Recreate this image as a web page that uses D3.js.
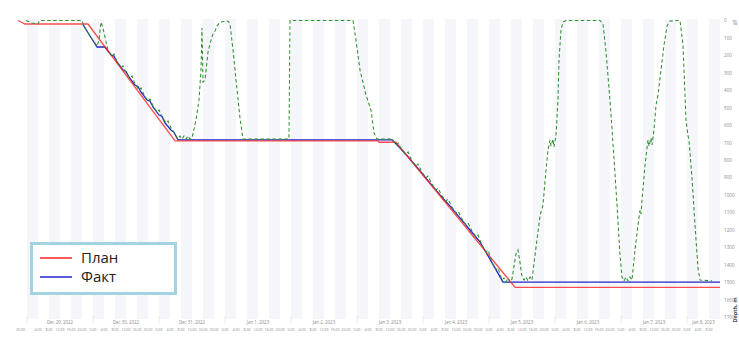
<!DOCTYPE html>
<html><head><meta charset="utf-8">
<script src="https://cdn.jsdelivr.net/npm/d3@7"></script>
<style>body{margin:0;background:#fff}svg{display:block}</style>
</head><body>
<svg id="c" width="739" height="338"></svg>
<script>
// ---------- data ----------
const timeDomain = ["2022-12-28 20:00", "2023-01-08 12:00"];
const depthTicks = [0,100,200,300,400,500,600,700,800,900,1000,1100,1200,1300,1400,1500,1600,1700];
const legendLabels = ["План", "Факт"];
const axisTitle = "Depth, m";

const planSeries = [
  ["2022-12-28 20:45",0],["2022-12-28 23:15",20],["2022-12-29 22:10",20],
  ["2022-12-31 05:50",690],["2023-01-03 07:40",690],["2023-01-03 08:00",698],
  ["2023-01-03 14:10",698],["2023-01-05 09:30",1530],["2023-01-08 12:00",1530]
];
const factSeries = [
  ["2022-12-29 20:20",23],["2022-12-29 22:55",89],["2022-12-30 01:30",152],["2022-12-30 04:20",152],
  ["2022-12-30 06:35",198],["2022-12-30 07:40",205],["2022-12-30 08:45",238],["2022-12-30 10:55",284],
  ["2022-12-30 12:00",292],["2022-12-30 13:05",324],["2022-12-30 15:15",370],["2022-12-30 16:20",378],
  ["2022-12-30 17:25",410],["2022-12-30 19:40",456],["2022-12-30 20:45",463],["2022-12-30 21:50",496],
  ["2022-12-31 00:00",542],["2022-12-31 01:05",549],["2022-12-31 02:10",587],["2022-12-31 04:20",628],
  ["2022-12-31 05:25",640],["2022-12-31 06:55",685],["2023-01-03 12:45",685],["2023-01-03 15:40",731],
  ["2023-01-03 19:15",794],["2023-01-03 22:55",863],["2023-01-04 02:35",932],["2023-01-04 06:10",1000],
  ["2023-01-04 09:50",1064],["2023-01-04 13:25",1132],["2023-01-04 17:05",1201],["2023-01-04 20:45",1270],
  ["2023-01-04 23:40",1350],["2023-01-05 02:35",1430],["2023-01-05 05:05",1500],["2023-01-08 12:00",1500]
];
const bitSeries = [
  ["2022-12-28 23:38",0],["2022-12-29 01:49",14],["2022-12-29 04:00",20],["2022-12-29 04:33",0],
  ["2022-12-29 20:00",0],["2022-12-29 20:44",32],["2022-12-29 22:55",89],["2022-12-30 01:27",146],
  ["2022-12-30 02:11",112],["2022-12-30 02:55",9],["2022-12-30 03:38",43],["2022-12-30 04:44",123],
  ["2022-12-30 05:27",169],["2022-12-30 06:55",204],["2022-12-30 07:38",192],["2022-12-30 08:44",238],
  ["2022-12-30 10:11",272],["2022-12-30 10:55",261],["2022-12-30 12:00",301],["2022-12-30 13:27",330],
  ["2022-12-30 14:11",318],["2022-12-30 15:16",364],["2022-12-30 16:44",398],["2022-12-30 17:27",387],
  ["2022-12-30 18:33",427],["2022-12-30 20:00",462],["2022-12-30 20:44",450],["2022-12-30 21:49",490],
  ["2022-12-30 23:16",525],["2022-12-31 00:00",513],["2022-12-31 01:05",553],["2022-12-31 02:33",588],
  ["2022-12-31 03:16",576],["2022-12-31 04:22",616],["2022-12-31 05:49",651],["2022-12-31 06:55",680],
  ["2022-12-31 07:38",662],["2022-12-31 08:22",680],["2022-12-31 09:05",662],["2022-12-31 09:49",680],
  ["2022-12-31 10:33",662],["2022-12-31 11:16",680],["2022-12-31 12:00",674],["2022-12-31 13:27",571],
  ["2022-12-31 14:33",456],["2022-12-31 15:16",284],["2022-12-31 15:38",43],["2022-12-31 16:00",353],
  ["2022-12-31 16:44",341],["2022-12-31 17:49",181],["2022-12-31 18:55",112],["2022-12-31 19:38",77],
  ["2022-12-31 20:22",60],["2022-12-31 21:05",32],["2022-12-31 22:11",9],["2023-01-01 01:05",3],
  ["2023-01-01 01:49",20],["2023-01-01 02:55",169],["2023-01-01 04:00",341],["2023-01-01 05:27",559],
  ["2023-01-01 06:33",680],["2023-01-01 23:16",680],["2023-01-01 23:38",0],["2023-01-02 22:33",0],
  ["2023-01-02 23:38",112],["2023-01-03 01:05",284],["2023-01-03 03:16",427],["2023-01-03 05:05",513],
  ["2023-01-03 06:11",645],["2023-01-03 07:16",680],["2023-01-03 12:45",680],["2023-01-03 14:11",714],
  ["2023-01-03 14:55",703],["2023-01-03 16:22",743],["2023-01-03 17:49",766],["2023-01-03 18:33",754],
  ["2023-01-03 20:00",806],["2023-01-03 21:27",834],["2023-01-03 22:11",823],["2023-01-03 23:38",869],
  ["2023-01-04 01:05",903],["2023-01-04 01:49",892],["2023-01-04 03:16",938],["2023-01-04 04:44",972],
  ["2023-01-04 05:27",961],["2023-01-04 06:55",1006],["2023-01-04 08:22",1035],["2023-01-04 09:05",1024],
  ["2023-01-04 10:33",1070],["2023-01-04 12:00",1104],["2023-01-04 12:44",1093],["2023-01-04 14:11",1138],
  ["2023-01-04 15:38",1173],["2023-01-04 16:22",1161],["2023-01-04 17:49",1207],["2023-01-04 19:16",1241],
  ["2023-01-04 20:00",1230],["2023-01-04 21:27",1287],["2023-01-04 22:55",1327],["2023-01-04 23:38",1316],
  ["2023-01-05 01:05",1385],["2023-01-05 02:33",1430],["2023-01-05 03:16",1419],["2023-01-05 04:44",1488],
  ["2023-01-05 05:27",1476],["2023-01-05 06:11",1499],["2023-01-05 06:55",1476],["2023-01-05 07:38",1499],
  ["2023-01-05 08:22",1482],["2023-01-05 09:05",1408],["2023-01-05 09:49",1339],["2023-01-05 10:33",1316],
  ["2023-01-05 11:16",1385],["2023-01-05 12:00",1471],["2023-01-05 12:44",1488],["2023-01-05 13:27",1471],
  ["2023-01-05 14:11",1493],["2023-01-05 14:55",1471],["2023-01-05 15:38",1488],["2023-01-05 16:44",1345],
  ["2023-01-05 17:49",1213],["2023-01-05 18:33",1121],["2023-01-05 18:55",1098],["2023-01-05 19:38",1058],
  ["2023-01-05 20:44",857],["2023-01-05 21:27",743],["2023-01-05 22:11",685],["2023-01-05 22:33",720],
  ["2023-01-05 23:16",680],["2023-01-05 23:38",725],["2023-01-06 00:22",657],["2023-01-06 01:05",456],
  ["2023-01-06 01:27",226],["2023-01-06 02:11",54],["2023-01-06 02:55",9],["2023-01-06 04:00",0],
  ["2023-01-06 16:22",0],["2023-01-06 17:27",20],["2023-01-06 18:33",181],["2023-01-06 20:00",456],
  ["2023-01-06 21:27",789],["2023-01-06 22:33",1058],["2023-01-06 23:38",1345],["2023-01-07 00:22",1471],
  ["2023-01-07 01:05",1493],["2023-01-07 01:49",1471],["2023-01-07 02:33",1493],["2023-01-07 03:16",1471],
  ["2023-01-07 04:00",1488],["2023-01-07 05:05",1316],["2023-01-07 06:11",1173],["2023-01-07 06:55",1087],
  ["2023-01-07 07:16",1110],["2023-01-07 07:38",1029],["2023-01-07 08:44",829],["2023-01-07 09:27",731],
  ["2023-01-07 09:49",685],["2023-01-07 10:11",720],["2023-01-07 10:55",674],["2023-01-07 11:16",714],
  ["2023-01-07 12:00",628],["2023-01-07 12:44",485],["2023-01-07 13:27",427],["2023-01-07 14:33",284],
  ["2023-01-07 15:38",141],["2023-01-07 16:44",32],["2023-01-07 17:49",3],["2023-01-07 21:27",0],
  ["2023-01-07 22:33",141],["2023-01-07 23:38",571],["2023-01-08 00:22",662],["2023-01-08 00:44",685],
  ["2023-01-08 01:49",903],["2023-01-08 02:55",1173],["2023-01-08 04:00",1419],["2023-01-08 04:44",1488],
  ["2023-01-08 09:05",1493]
];

// ---------- setup ----------
const parse = d3.timeParse("%Y-%m-%d %H:%M");
const svg = d3.select("#c");
const plot = {left: 16, right: 720, top: 19, bottom: 319};
const x = d3.scaleTime().domain(timeDomain.map(parse)).range([plot.left, plot.right]);
const y = d3.scaleLinear().domain([0, 1700]).range([20.5, 317]);
const font = "'Open Sans', 'DejaVu Sans', sans-serif";

// background bands (alternating 4h)
const [t0, t1] = x.domain();
const bandStarts = d3.timeHour.every(4).range(t0, t1);
svg.append("g").selectAll("rect").data(bandStarts.filter(d => d.getHours() % 8 === 0))
  .join("rect")
  .attr("x", d => x(d)).attr("y", plot.top)
  .attr("width", d => x(d3.min([d3.timeHour.offset(d, 4), t1])) - x(d))
  .attr("height", plot.bottom - plot.top)
  .attr("fill", "#f4f6fa");

// lines
const line = d3.line().x(d => x(parse(d[0]))).y(d => y(d[1]));
svg.append("path").datum(factSeries).attr("d", line)
  .attr("fill", "none").attr("stroke", "#2424c8").attr("stroke-width", 1.3);
svg.append("path").datum(planSeries).attr("d", line)
  .attr("fill", "none").attr("stroke", "#ff2222").attr("stroke-width", 1.3).attr("stroke-opacity", 0.8);
svg.append("path").datum(bitSeries).attr("d", line)
  .attr("fill", "none").attr("stroke", "#2f8f2f").attr("stroke-width", 1.05)
  .attr("stroke-dasharray", "3.5,2.5");

// right axis
const yAxis = d3.axisRight(y).tickValues(depthTicks).tickSize(0).tickPadding(0).tickFormat(d3.format("d"));
const ga = svg.append("g").attr("transform", `translate(${plot.right + 4},0)`).call(yAxis);
ga.select(".domain").remove();
ga.selectAll("text").attr("font-family", font).attr("font-size", 4.6).attr("fill", "#8a8a8a");

svg.append("text").attr("transform", `translate(737,310) rotate(-90)`)
  .attr("text-anchor", "middle").attr("font-family", font).attr("font-size", 5.5)
  .attr("font-weight", "bold").attr("fill", "#445").text(axisTitle);
svg.append("text").attr("x", 735).attr("y", 25).attr("text-anchor", "middle")
  .attr("font-family", "DejaVu Sans").attr("font-size", 7).attr("fill", "#99a").text("⇅");

// bottom axis: hour labels
const hourFmt = d3.timeFormat("%-H:%M");
const hourTicks = d3.timeHour.every(4).range(t0, t1);
const gh = svg.append("g");
let lastEnd = -Infinity;
hourTicks.forEach((d, i) => {
  const px = x(d);
  const t = gh.append("text").attr("x", px).attr("y", 331)
    .attr("text-anchor", i === 0 ? "start" : "middle")
    .attr("font-family", font).attr("font-size", 3.6).attr("fill", "#8a8a8a").text(hourFmt(d));
  const bb = t.node().getBBox();
  if (bb.x < lastEnd) { t.remove(); return; }
  lastEnd = bb.x + bb.width;
});

// date labels and day separators
const dateFmt = d3.timeFormat("%b %-d, %Y");
const days = d3.timeDay.range(d3.timeDay.ceil(t0), t1);
const gd = svg.append("g");
days.forEach(d => {
  gd.append("line").attr("x1", x(d)).attr("x2", x(d)).attr("y1", 316).attr("y2", 324)
    .attr("stroke", "#e2e4ea").attr("stroke-width", 0.8);
});
d3.timeDay.range(d3.timeDay.floor(t0), t1).forEach(d => {
  const a = d3.max([d, t0]), b = d3.min([d3.timeDay.offset(d, 1), t1]);
  if (b - a < 8 * 3600e3) return;
  gd.append("text").attr("x", (x(a) + x(b)) / 2).attr("y", 324).attr("text-anchor", "middle")
    .attr("font-family", font).attr("font-size", 4.4).attr("fill", "#8a8a8a").text(dateFmt(d));
});

// legend
const lg = svg.append("g");
lg.append("rect").attr("x", 31.5).attr("y", 243.5).attr("width", 144).attr("height", 50)
  .attr("fill", "#fff").attr("stroke", "#a3d3e2").attr("stroke-width", 3);
const legendColors = ["#ff2222", "#2424c8"];
legendLabels.forEach((lab, i) => {
  const cy = 258 + i * 19;
  lg.append("line").attr("x1", 40).attr("x2", 72).attr("y1", cy).attr("y2", cy)
    .attr("stroke", legendColors[i]).attr("stroke-width", 1.5);
  lg.append("text").attr("x", 81).attr("y", cy + 5).attr("font-family", font)
    .attr("font-size", 15).attr("fill", "#222").text(lab);
});
</script>
</body></html>
